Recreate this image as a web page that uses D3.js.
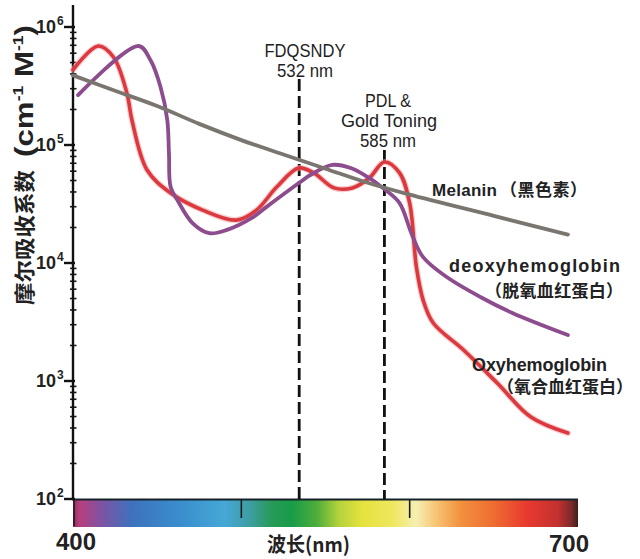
<!DOCTYPE html>
<html><head><meta charset="utf-8">
<script src="https://cdn.jsdelivr.net/npm/d3@7"></script>
<style>body{margin:0;background:#fff}svg{display:block}</style>
</head><body><svg id="c" width="640" height="559"></svg>
<script>
// ---- data ----
const melaninWl = [400,425,450,475,500,525,550,575,600,650,694];
const melanin   = [3.89e5,2.88e5,2.14e5,1.51e5,1.10e5,8.3e4,6.3e4,4.79e4,3.8e4,2.51e4,1.74e4];

const deoxyWl = [403,439,446,452,456,457,458,462,471,481,491,507,515,535,541,554,565,575,584,594,601,608,622,642,661,694];
const deoxy   = [2.65e5,6.9e5,5.25e5,3.1e5,1.63e5,8.55e4,4.4e4,3.42e4,2.18e4,1.79e4,1.9e4,2.45e4,2.99e4,4.85e4,5.57e4,6.78e4,6.38e4,5.36e4,4.33e4,3.22e4,1.79e4,1.12e4,7.6e3,5.15e3,3.77e3,2.45e3];

const oxyWl = [400,415,424,432,435,444,458,477,497,509,521,534,543,555,566,576,585,594,600,604,608,614,632,652,672,694];
const oxy   = [4.33e5,6.9e5,5.57e5,2.76e5,1.63e5,6.14e4,3.92e4,2.81e4,2.31e4,2.81e4,4.4e4,6.38e4,5.8e4,4.33e4,4.33e4,5.25e4,7.18e4,5.8e4,3.22e4,9.25e3,4.85e3,3.1e3,1.83e3,962,495,362];

const yTickExps = [6,5,4,3,2];
const xEndLabels = ["400","700"];
const markerWl = [532,585];
const markerLabels = [["FDQSNDY","532 nm"],["PDL &","Gold Toning","585 nm"]];
const barTicks = [500,600];
const spectrumStops = [
  [400,"#8e2d62"],[404,"#b83e7c"],[418,"#7a55a6"],[435,"#3d72bd"],[465,"#3a8fce"],[490,"#46a8d6"],
  [505,"#3d9ea2"],[518,"#279a58"],[530,"#189c48"],[545,"#4fae3b"],[558,"#b5d23b"],[572,"#e6e23e"],
  [590,"#efe75e"],[604,"#f6efb2"],[615,"#f7c677"],[630,"#f2923f"],[650,"#ee6c31"],[670,"#e8392f"],
  [688,"#c3312f"],[696,"#7d2a2a"],[700,"#3e1c1c"]
];

// ---- scales ----
const svg = d3.select('#c');
const x = d3.scaleLinear().domain([400,700]).range([73,578]);
const y = d3.scaleLog().domain([1e2,1e6]).range([499,27]);
const latin = "'Liberation Sans', Arial, sans-serif";
const cjk = "'Noto Sans CJK SC', 'Liberation Sans', sans-serif";

// ---- spectrum bar ----
const defs = svg.append('defs');
const grad = defs.append('linearGradient').attr('id','spec')
  .attr('gradientUnits','userSpaceOnUse').attr('x1',x(400)).attr('x2',x(700)).attr('y1',0).attr('y2',0);
grad.selectAll('stop').data(spectrumStops).join('stop')
  .attr('offset',d=>(d[0]-400)/300).attr('stop-color',d=>d[1]);
svg.append('rect').attr('x',x(400)).attr('y',499).attr('width',x(700)-x(400)).attr('height',28).attr('fill','url(#spec)');
svg.append('line').attr('x1',x(400)+1).attr('x2',x(400)+1).attr('y1',499).attr('y2',526).attr('stroke','#3a1a2a').attr('stroke-width',2);
svg.selectAll('.btick').data(barTicks).join('line')
  .attr('x1',d=>x(d)).attr('x2',d=>x(d)).attr('y1',499).attr('y2',518).attr('stroke','#1b1b1b').attr('stroke-width',1.6);
svg.append('line').attr('x1',x(400)-1).attr('x2',x(700)).attr('y1',499.5).attr('y2',499.5).attr('stroke','#16222a').attr('stroke-width',2.2);

// ---- y axis ----
const minor = [];
for (let k=2;k<6;k++) for (let m=2;m<10;m++) minor.push(m*Math.pow(10,k));
svg.selectAll('.minor').data(minor).join('line')
  .attr('x1',70).attr('x2',76.5).attr('y1',d=>y(d)).attr('y2',d=>y(d)).attr('stroke','#1a1a1a').attr('stroke-width',1.6);
svg.append('line').attr('x1',73).attr('x2',73).attr('y1',5).attr('y2',500).attr('stroke','#111').attr('stroke-width',2.4);
svg.selectAll('.major').data(yTickExps).join('line')
  .attr('x1',64).attr('x2',75).attr('y1',d=>y(Math.pow(10,d))).attr('y2',d=>y(Math.pow(10,d))).attr('stroke','#111').attr('stroke-width',2.4);
const yl = svg.selectAll('.ylab').data(yTickExps).join('text')
  .attr('x',56).attr('y',d=>y(Math.pow(10,d))+6).attr('text-anchor','end')
  .attr('font-family',latin).attr('font-size',18).attr('font-weight','bold').attr('fill','#222');
yl.append('tspan').text('10');
yl.append('tspan').attr('x',d=>56).attr('dx',1).attr('dy',-8).attr('text-anchor','start').attr('font-size',12).text(d=>d);

// y title (two parts)
svg.append('text').attr('transform','translate(32,305) rotate(-90)')
  .attr('font-weight','bold').attr('fill','#222').attr('font-size',21)
  .attr('font-family',cjk).attr('textLength',135).attr('lengthAdjust','spacingAndGlyphs').text('摩尔吸收系数');
const yt = svg.append('text').attr('transform','translate(33,157) rotate(-90)')
  .attr('font-weight','bold').attr('fill','#222').attr('font-size',25).attr('font-family',latin)
  .attr('textLength',132).attr('lengthAdjust','spacingAndGlyphs');
yt.append('tspan').text('(cm');
yt.append('tspan').attr('font-size',14).attr('dy',-10).text('-1');
yt.append('tspan').attr('dy',10).text(' M');
yt.append('tspan').attr('font-size',14).attr('dy',-10).text('-1');
yt.append('tspan').attr('dy',10).text(')');

// ---- x labels ----
svg.append('text').attr('x',x(400)+3).attr('y',550).attr('text-anchor','middle')
  .attr('font-family',latin).attr('font-weight','bold').attr('font-size',24).attr('fill','#222').text(xEndLabels[0]);
svg.append('text').attr('x',x(700)-9).attr('y',552).attr('text-anchor','middle')
  .attr('font-family',latin).attr('font-weight','bold').attr('font-size',24).attr('fill','#222').text(xEndLabels[1]);
svg.append('text').attr('x',267).attr('y',552).attr('textLength',83).attr('lengthAdjust','spacingAndGlyphs')
  .attr('font-family',cjk).attr('font-weight','bold').attr('font-size',20).attr('fill','#222').text('波长(nm)');

// ---- marker lines ----
const mTop = [79,150];
svg.selectAll('.mk').data(markerWl).join('line')
  .attr('x1',d=>x(d)+ (d===532?4:0)).attr('x2',d=>x(d)+(d===532?4:0))
  .attr('y1',(d,i)=>mTop[i]).attr('y2',499)
  .attr('stroke','#111').attr('stroke-width',2.8).attr('stroke-dasharray','12,5');
const mLab = [[[305,57,81],[305,77,56]],[[388,107,46],[389,127,96],[388,147,56]]];
markerLabels.forEach((lines,i)=>{
  lines.forEach((t,j)=>{
    const p = mLab[i][j];
    svg.append('text').attr('x',p[0]-p[2]/2).attr('y',p[1])
      .attr('font-family',latin).attr('font-size',18).attr('fill','#1e1e1e')
      .attr('textLength',p[2]).attr('lengthAdjust','spacingAndGlyphs').text(t);
  });
});

// ---- curves ----
const line = d3.line().x(d=>x(d[0])).y(d=>y(d[1])).curve(d3.curveCatmullRom.alpha(0.5));
const zipped = (a,b)=>a.map((w,i)=>[w,b[i]]);
svg.append('path').attr('d',line(zipped(oxyWl,oxy))).attr('fill','none')
  .attr('stroke','#f4a3a6').attr('stroke-width',6).attr('stroke-opacity',0.55).attr('stroke-linecap','round');
svg.append('path').attr('d',line(zipped(oxyWl,oxy))).attr('fill','none')
  .attr('stroke','#da3a3f').attr('stroke-width',3.6).attr('stroke-linecap','round');
svg.append('path').attr('d',line(zipped(deoxyWl,deoxy))).attr('fill','none')
  .attr('stroke','#8c4c8d').attr('stroke-width',3.8).attr('stroke-linecap','round');
svg.append('path').attr('d',line(zipped(melaninWl,melanin))).attr('fill','none')
  .attr('stroke','#7a766f').attr('stroke-width',3.8).attr('stroke-linecap','round');

// ---- series labels ----
function lab(xp,yp,len,t,fam,size){
  svg.append('text').attr('x',xp).attr('y',yp).attr('textLength',len).attr('lengthAdjust','spacing')
    .attr('font-family',fam).attr('font-weight','bold').attr('font-size',size).attr('fill','#222').text(t);
}
lab(432,196,65,'Melanin',latin,17);
lab(500,196,87,'（黑色素）',cjk,17);
lab(449,272,171,'deoxyhemoglobin',latin,18);
lab(485,297,138,'（脱氧血红蛋白）',cjk,17);
lab(472,371,135,'Oxyhemoglobin',latin,18);
lab(497,393,136,'（氧合血红蛋白）',cjk,17);
</script></body></html>
